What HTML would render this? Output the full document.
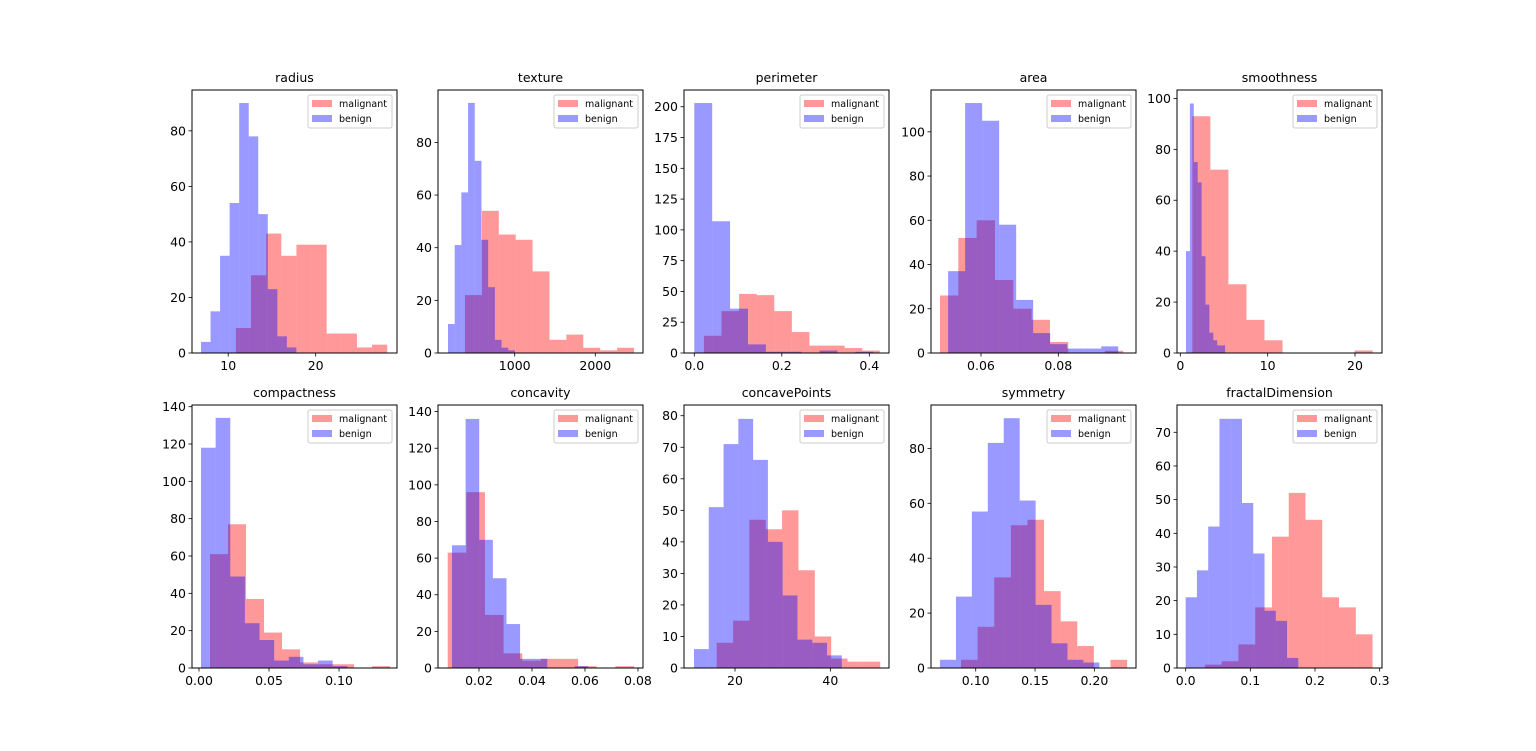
<!DOCTYPE html>
<html><head><meta charset="utf-8">
<style>
html,body{margin:0;padding:0;background:#fff;}
svg{display:block;font-family:"DejaVu Sans","Liberation Sans",sans-serif;}
</style></head>
<body>
<svg id="fig" width="1536" height="751" viewBox="0 0 1536 751" xmlns="http://www.w3.org/2000/svg"></svg>
<script>
// ---- data (counts per bin, bin starts/widths in data units) ----
const titles = ["radius","texture","perimeter","area","smoothness","compactness","concavity","concavePoints","symmetry","fractalDimension"];
const malignantCounts = [
  [9,28,43,35,39,39,7,7,2,3],
  [22,54,45,43,31,5,7,2,1,2],
  [14,34,48,47,34,17,6,6,4,2],
  [26,52,60,33,20,15,5,0,0,1],
  [93,72,27,13,5,0,0,0,0,1],
  [61,77,37,19,10,3,2,2,0,1],
  [63,96,29,8,4,5,5,1,0,1],
  [8,15,47,44,50,31,10,3,2,2],
  [3,15,33,52,54,28,17,8,0,3],
  [1,2,7,18,39,52,44,21,18,10]
];
const benignCounts = [
  [4,15,35,54,90,78,50,23,6,2],
  [11,41,61,95,73,43,25,5,2,1],
  [203,107,36,7,1,1,0,2,0,1],
  [37,113,105,58,24,9,4,2,2,3],
  [40,98,75,67,38,19,8,5,3,3],
  [118,134,49,24,15,4,6,2,4,1],
  [67,136,70,49,24,5,5,0,0,1],
  [6,51,71,79,66,40,23,9,8,4],
  [3,26,57,82,91,61,23,9,3,2],
  [21,29,42,74,74,49,34,17,14,3]
];
const malignantStart = [10.88,383,0.022,0.0494,1.375,0.00786,0.0082,16.16,0.0876,0.0298];
const malignantWidth = [1.73,209.7,0.0402,0.00474,2.065,0.01286,0.00703,3.43,0.0140,0.02592];
const benignStart = [6.89,172,0.0,0.0515,0.65,0.00143,0.00981,11.4,0.0699,0.0];
const benignWidth = [1.091,83.1,0.0409,0.0044,0.447,0.01045,0.00514,3.10,0.01343,0.01742];
const xMin = [5.86,48,-0.0235,0.04707,-0.38,-0.005,0.00453,9.3,0.0623,-0.0134];
const xMax = [29.3,2592,0.445,0.1001,23.09,0.1414,0.0819,52.3,0.2351,0.3036];
const yMax = [94.7,99.9,213.6,118.9,103.3,140.9,143.6,83.4,95.8,78.1];
const xTicks = [[10,20],[1000,2000],[0,0.2,0.4],[0.06,0.08],[0,10,20],[0,0.05,0.10],[0.02,0.04,0.06,0.08],[20,40],[0.10,0.15,0.20],[0,0.1,0.2,0.3]];
const xTickLabels = [["10","20"],["1000","2000"],["0.0","0.2","0.4"],["0.06","0.08"],["0","10","20"],["0.00","0.05","0.10"],["0.02","0.04","0.06","0.08"],["20","40"],["0.10","0.15","0.20"],["0.0","0.1","0.2","0.3"]];
const yTicks = [[0,20,40,60,80],[0,20,40,60,80],[0,25,50,75,100,125,150,175,200],[0,20,40,60,80,100],[0,20,40,60,80,100],[0,20,40,60,80,100,120,140],[0,20,40,60,80,100,120,140],[0,10,20,30,40,50,60,70,80],[0,20,40,60,80],[0,10,20,30,40,50,60,70]];

const NS = "http://www.w3.org/2000/svg";
const svg = document.getElementById("fig");
function mk(tag, attrs, parent){const e=document.createElementNS(NS,tag);for(const k in attrs)e.setAttribute(k,attrs[k]);(parent||svg).appendChild(e);return e;}

const colLeft=[192,438,684,931,1177], rowTop=[90,405], W=205, H=263;

for(let p=0;p<10;p++){
  const L=colLeft[p%5], T=rowTop[Math.floor(p/5)], B=T+H;
  const g=mk("g",{});
  
  
  const xs=v=>L+(v-xMin[p])/(xMax[p]-xMin[p])*W;
  const ys=v=>B-v/yMax[p]*H;
  const drawSeries=(counts,start,width,color,name)=>{
    counts.forEach((c,i)=>{
      if(c<=0) return;
      const x0=xs(start+i*width), x1=xs(start+(i+1)*width);
      const r=mk("rect",{x:x0,y:ys(c),width:x1-x0,height:B-ys(c),fill:color,"fill-opacity":0.4},g);
      
      
    });
  };
  drawSeries(malignantCounts[p],malignantStart[p],malignantWidth[p],"#ff0000","malignant");
  drawSeries(benignCounts[p],benignStart[p],benignWidth[p],"#0000ff","benign");
  const frame=mk("rect",{x:L,y:T,width:W,height:H,fill:"none",stroke:"#000","stroke-width":1},g);
  
  
  const t=mk("text",{x:L+W/2,y:T-8,"text-anchor":"middle","font-size":12.5,fill:"#000"},g);
  t.textContent=titles[p];
  
  
  xTicks[p].forEach((v,i)=>{
    const x=xs(v);
    mk("line",{x1:x,x2:x,y1:B,y2:B+3.5,stroke:"#000","stroke-width":0.8},g);
    const tl=mk("text",{x:x,y:B+17,"text-anchor":"middle","font-size":12.5,fill:"#000"},g);
    tl.textContent=xTickLabels[p][i];
    
    
  });
  yTicks[p].forEach(v=>{
    const y=ys(v);
    mk("line",{x1:L-3.5,x2:L,y1:y,y2:y,stroke:"#000","stroke-width":0.8},g);
    const tl=mk("text",{x:L-6,y:y+4.5,"text-anchor":"end","font-size":12.5,fill:"#000"},g);
    tl.textContent=String(v);
    
    
  });
  // legend
  const lg=mk("g",{},g);
  
  
  const lx=L+W-89, ly=T+5;
  mk("rect",{x:lx,y:ly,width:84,height:33,rx:2,fill:"#fff","fill-opacity":0.8,stroke:"#ccc","stroke-width":1},lg);
  [["malignant","#ff0000"],["benign","#0000ff"]].forEach((e,i)=>{
    const ent=mk("g",{},lg);
    
    
    mk("rect",{x:lx+4,y:ly+5+i*15,width:20,height:7,fill:e[1],"fill-opacity":0.4},ent);
    const tx=mk("text",{x:lx+31,y:ly+12+i*15,"font-size":9.5,fill:"#000"},ent);
    tx.textContent=e[0];
  });
}
</script>
</body></html>
